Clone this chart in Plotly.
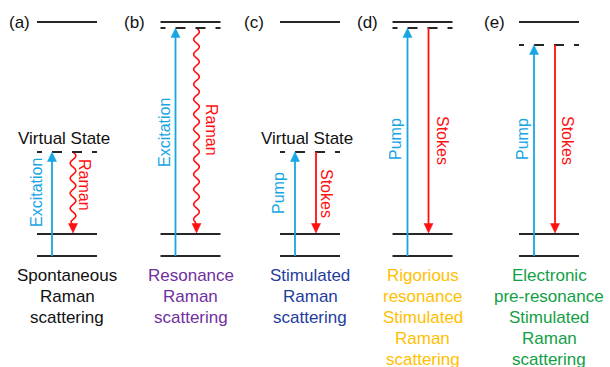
import numpy as np
import plotly.graph_objects as go

# ---------------- data ----------------
panel_tags = ["(a)", "(b)", "(c)", "(d)", "(e)"]
titles = [
    ["Spontaneous", "Raman", "scattering"],
    ["Resonance", "Raman", "scattering"],
    ["Stimulated", "Raman", "scattering"],
    ["Rigorious", "resonance", "Stimulated", "Raman", "scattering"],
    ["Electronic", "pre-resonance", "Stimulated", "Raman", "scattering"],
]
title_colors = ["#111111", "#7030A0", "#1F3D9E", "#FFC000", "#12A046"]
up_labels = ["Excitation", "Excitation", "Pump", "Pump", "Pump"]
down_labels = ["Raman", "Raman", "Stokes", "Stokes", "Stokes"]
wavy = [True, True, False, False, False]
virtual_text = ["Virtual State", "", "Virtual State", "", ""]
# energies (relative units, ground = 0)
E_ground = 0
E_vib = 22
E_elec = 234
E_virtual = [104, 228, 104, 228, 211]

# ---------------- layout constants ----------------
W, H = 610, 367
Y_TOP = 256  # energy value at the top pixel row
panel_cx = [67, 190.5, 310, 422.5, 549]
half_w = 30
blue_dx = -15
red_dx = 6
tag_right = [32, 147, 266, 380, 507]
up_text_x = [36, 164, 278, 395, 522]
up_text_E = [63, 123, 63, 117, 117]
down_text_x = [85, 212, 327, 443, 568]
down_text_E = [71, 126, 63, 116, 116]
BLUE = "#17A6E3"
RED = "#FF1010"
LEVEL = "#262626"
FONT = "Arial, Liberation Sans, sans-serif"
head_len, head_hw = 9.5, 4.5

fig = go.Figure()
shapes = []
ann = []

def Ey(py):
    return Y_TOP - py

def tri(x, tip, direction, color):
    # direction +1: pointing up, -1: pointing down
    b = tip - direction * head_len
    return dict(type="path", xref="x", yref="y", layer="above",
                path=f"M {x},{tip} L {x-head_hw},{b} L {x+head_hw},{b} Z",
                fillcolor=color, line=dict(color=color, width=0.5))

for i in range(5):
    cx = panel_cx[i]
    x0, x1 = cx - half_w, cx + half_w
    # levels
    for E in (E_ground, E_vib, E_elec):
        shapes.append(dict(type="line", x0=x0, x1=x1, y0=E, y1=E,
                           line=dict(color=LEVEL, width=2.2), layer="above"))
    Ev = E_virtual[i]
    shapes.append(dict(type="line", x0=x0, x1=x1, y0=Ev, y1=Ev,
                       line=dict(color=LEVEL, width=2, dash="5px,10px,10px,10px,10px,10px,5px"),
                       layer="above"))
    # pump / excitation arrow
    bx = cx + blue_dx
    shapes.append(dict(type="line", x0=bx, x1=bx, y0=E_ground, y1=Ev - head_len + 1,
                       line=dict(color=BLUE, width=1.8), layer="above"))
    shapes.append(tri(bx, Ev, +1, BLUE))
    # stokes / raman arrow
    rx = cx + red_dx
    end = E_vib + head_len
    if wavy[i]:
        E = np.linspace(Ev, end + 3, 500)
        xs = rx + 2.8 * np.sin(2 * np.pi * (Ev - E) / 15.0)
        E = np.append(E, end - 1)
        xs = np.append(xs, rx)
        fig.add_trace(go.Scatter(x=xs, y=E, mode="lines",
                                 line=dict(color=RED, width=1.6, shape="spline"),
                                 hoverinfo="skip", showlegend=False))
    else:
        shapes.append(dict(type="line", x0=rx, x1=rx, y0=Ev, y1=end - 1,
                           line=dict(color=RED, width=1.8), layer="above"))
    shapes.append(tri(rx, E_vib + 1, -1, RED))

    # texts
    ann.append(dict(x=tag_right[i], y=E_elec, text=panel_tags[i], xanchor="right",
                    yanchor="middle", showarrow=False, font=dict(family=FONT, size=17, color="#111")))
    if virtual_text[i]:
        ann.append(dict(x=cx - 3, y=Ey(138), text=virtual_text[i], showarrow=False,
                        xanchor="center", yanchor="middle",
                        font=dict(family=FONT, size=17, color="#111")))
    ann.append(dict(x=up_text_x[i], y=up_text_E[i], text=up_labels[i], textangle=-90,
                    showarrow=False, xanchor="center", yanchor="middle",
                    font=dict(family=FONT, size=16, color=BLUE)))
    ann.append(dict(x=down_text_x[i], y=down_text_E[i], text=down_labels[i], textangle=90,
                    showarrow=False, xanchor="center", yanchor="middle",
                    font=dict(family=FONT, size=16, color=RED)))
    for k, line in enumerate(titles[i]):
        ann.append(dict(x=cx, y=Ey(275 + 21 * k), text=line, showarrow=False,
                        xanchor="center", yanchor="middle",
                        font=dict(family=FONT, size=17, color=title_colors[i])))

fig.update_layout(
    width=W, height=H, margin=dict(l=0, r=0, t=0, b=0),
    paper_bgcolor="white", plot_bgcolor="white",
    xaxis=dict(range=[0, W], visible=False, fixedrange=True),
    yaxis=dict(range=[Y_TOP - H, Y_TOP], visible=False, fixedrange=True),
    shapes=shapes, annotations=ann, showlegend=False,
)
fig.write_html("out.html")
